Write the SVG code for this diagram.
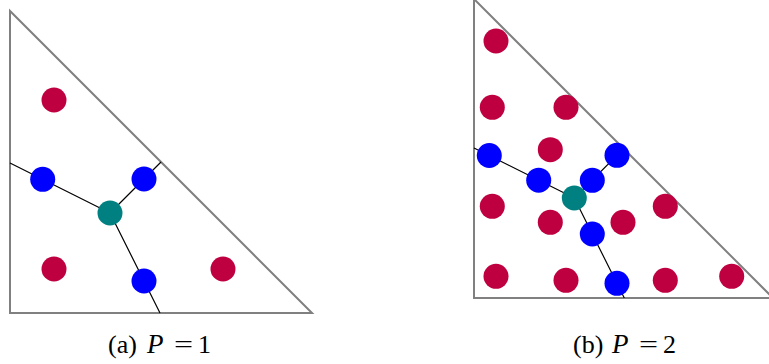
<svg xmlns="http://www.w3.org/2000/svg" width="769" height="364" viewBox="0 0 769 364">
<style>
.tri{fill:none;stroke:#808080;stroke-width:2;stroke-linejoin:miter}
.con{stroke:#000;stroke-width:1.2;fill:none}
.r{fill:#BF0040}
.b{fill:#0000FF}
.t{fill:#008080}
</style>
<rect width="769" height="364" fill="#fff"/>
<g id="triangle-a"><path class="tri" d="M10,11 L10,313 L312,313 Z"/></g>
<g id="triangle-b"><path class="tri" d="M474,-1 L474,298 L773,298 Z"/></g>
<g id="connectors">
<path class="con" d="M110,213 L10,163 M110,213 L161,162 M110,213 L160,313"/>
<path class="con" d="M574.3,198 L474,148 M574.3,198 L623.7,148.7 M574.3,198 L624.3,298"/>
</g>
<g id="nodes-a">
<g id="a-r1"><circle class="r" cx="54" cy="100" r="12.5"/></g>
<g id="a-r2"><circle class="r" cx="54" cy="269" r="12.5"/></g>
<g id="a-r3"><circle class="r" cx="223" cy="269" r="12.5"/></g>
<g id="a-b1"><circle class="b" cx="42.7" cy="179.3" r="12.5"/></g>
<g id="a-b2"><circle class="b" cx="144" cy="179" r="12.5"/></g>
<g id="a-b3"><circle class="b" cx="144" cy="281" r="12.5"/></g>
<g id="a-t"><circle class="t" cx="110" cy="213" r="12.5"/></g>
</g>
<g id="nodes-b">
<g id="b-r1"><circle class="r" cx="496" cy="41" r="12.5"/></g>
<g id="b-r2"><circle class="r" cx="492.3" cy="107.3" r="12.5"/></g>
<g id="b-r3"><circle class="r" cx="566" cy="107.3" r="12.5"/></g>
<g id="b-r4"><circle class="r" cx="550.3" cy="149.7" r="12.5"/></g>
<g id="b-r5"><circle class="r" cx="492.3" cy="206.3" r="12.5"/></g>
<g id="b-r6"><circle class="r" cx="550.3" cy="222.3" r="12.5"/></g>
<g id="b-r7"><circle class="r" cx="623" cy="222.3" r="12.5"/></g>
<g id="b-r8"><circle class="r" cx="665.3" cy="206.3" r="12.5"/></g>
<g id="b-r9"><circle class="r" cx="496" cy="276.3" r="12.5"/></g>
<g id="b-r10"><circle class="r" cx="566" cy="280.3" r="12.5"/></g>
<g id="b-r11"><circle class="r" cx="665.3" cy="280.3" r="12.5"/></g>
<g id="b-r12"><circle class="r" cx="731.7" cy="276.3" r="12.5"/></g>
<g id="b-b1"><circle class="b" cx="489.3" cy="155.5" r="12.5"/></g>
<g id="b-b2"><circle class="b" cx="538.7" cy="180.2" r="12.5"/></g>
<g id="b-b3"><circle class="b" cx="592.3" cy="180.3" r="12.5"/></g>
<g id="b-b4"><circle class="b" cx="617" cy="155.3" r="12.5"/></g>
<g id="b-b5"><circle class="b" cx="592.3" cy="234" r="12.5"/></g>
<g id="b-b6"><circle class="b" cx="617" cy="283.3" r="12.5"/></g>
<g id="b-t"><circle class="t" cx="574.3" cy="198" r="12.5"/></g>
</g>
<g id="caption-a" font-family="'Liberation Serif', 'DejaVu Serif', serif" font-size="26" fill="#000">
<text x="108" y="353">(a)</text>
<text x="147" y="353" font-style="italic" font-size="27">P</text>
<text transform="translate(174,353) scale(1.3,1)" x="0" y="0">=</text>
<text x="198" y="353">1</text>
</g>
<g id="caption-b" font-family="'Liberation Serif', 'DejaVu Serif', serif" font-size="26" fill="#000">
<text x="573" y="353">(b)</text>
<text x="612" y="353" font-style="italic" font-size="27">P</text>
<text transform="translate(639,353) scale(1.3,1)" x="0" y="0">=</text>
<text x="663" y="353">2</text>
</g>
</svg>
